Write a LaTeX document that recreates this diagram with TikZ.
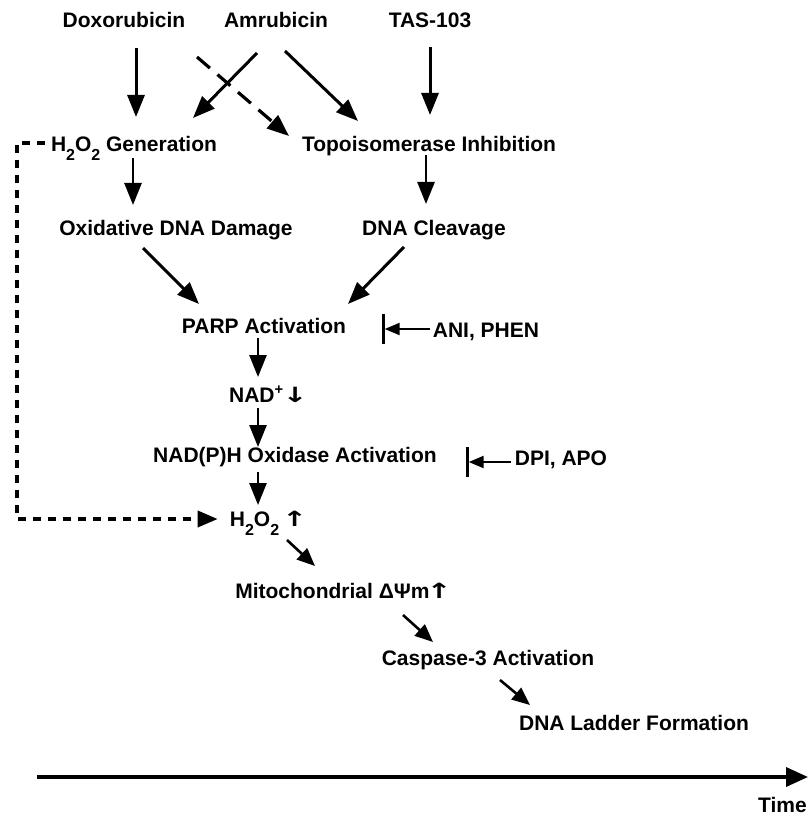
\documentclass[tikz,border=0pt]{standalone}
\usepackage{fontspec}
\setmainfont{Liberation Sans}
\newfontfamily\myarrowfont{DejaVu Sans}
\usetikzlibrary{arrows.meta,calc}
\newcommand{\mysubtwo}{\raisebox{-9pt}{\fontsize{16}{16}\selectfont 2}}
\newcommand{\mydnarr}{\kern-1pt\scalebox{1.5}[1.05]{\myarrowfont\bfseries\fontsize{20}{20}\selectfont ↓}\kern-3pt}
\newcommand{\myuparr}{\kern-3pt\scalebox{1.5}[1.05]{\myarrowfont\bfseries\fontsize{20}{20}\selectfont ↑}\kern-3pt}
\begin{document}
\begin{tikzpicture}[x=1pt,y=-1pt,
  lbl/.style={font=\bfseries\fontsize{21}{25}\selectfont,inner sep=0pt,anchor=base,text height=15pt,text depth=4pt},
  thk/.style={line width=3pt,-{Triangle[length=22pt,width=17pt]}},
  med/.style={line width=2.6pt,-{Triangle[length=22pt,width=17pt]}},
  sml/.style={line width=2.6pt,-{Triangle[length=18pt,width=15pt]}},
  inh/.style={line width=2.2pt,-{Triangle[length=15pt,width=12pt]}},
  barnode/.style={fill=black,draw=none,inner sep=0pt,minimum width=3pt,minimum height=30pt},
  dsh/.style={line width=3.5pt,dash pattern=on 8pt off 7pt,-{Triangle[length=20pt,width=16pt]}},
  dshA/.style={line width=3.2pt,dash pattern=on 17pt off 10pt,-{Triangle[length=22pt,width=17pt]}},
  axisln/.style={line width=3.5pt,-{Triangle[length=22pt,width=19pt]}}
]
\useasboundingbox (0,0) rectangle (810,818);

% nodes
\node[lbl] (dox) at (124,28) {Doxorubicin};
\node[lbl] (amr) at (276,28) {Amrubicin};
\node[lbl] (tas) at (430,28) {TAS-103};
\node[lbl] (gen) at (134,152) {H\mysubtwo O\mysubtwo\ Generation};
\node[lbl] (topo) at (429,152) {Topoisomerase Inhibition};
\node[lbl] (ox) at (176,235) {Oxidative DNA Damage};
\node[lbl] (clv) at (434,235) {DNA Cleavage};
\node[lbl] (parp) at (264,333) {PARP Activation};
\node[lbl] (ani) at (486,337) {ANI, PHEN};
\node[barnode] (bar1) at (383,329) {};
\node[lbl] (nad) at (267,402) {NAD\textsuperscript{+}\mydnarr};
\node[lbl] (nadph) at (295,462) {NAD(P)H Oxidase Activation};
\node[lbl] (dpi) at (561,465) {DPI, APO};
\node[barnode] (bar2) at (467,462) {};
\node[lbl] (h2) at (267,526) {H\mysubtwo O\mysubtwo\ \myuparr};
\node[lbl] (mito) at (342,598) {Mitochondrial ΔΨm\myuparr};
\node[lbl] (casp) at (488,665) {Caspase-3 Activation};
\node[lbl] (lad) at (634,730) {DNA Ladder Formation};
\node[lbl,anchor=base east] (time) at (807,812) {Time};
\coordinate (t0) at (37,777);

% connectors
\draw[thk] ($(dox.base)+(12,20)$) -- ($(gen.base)+(2,-35)$);
\draw[thk] ($(amr.base)+(-19,25)$) -- ($(gen.base)+(59,-34)$);
\draw[dshA] ($(amr.base)+(-79,29)$) -- ($(topo.base)+(-140,-16)$);
\draw[thk] ($(amr.base)+(9,23)$) -- ($(topo.base)+(-71,-31)$);
\draw[thk] ($(tas.base)+(0,19)$) -- ($(topo.base)+(1,-37)$);
\draw[med] ($(gen.base)+(-1,6)$) -- ($(ox.base)+(-43,-30)$);
\draw[med] ($(topo.base)+(-3,3)$) -- ($(clv.base)+(-8,-31)$);
\draw[thk] ($(ox.base)+(-33,13)$) -- ($(parp.base)+(-65,-29)$);
\draw[thk] ($(clv.base)+(-30,12)$) -- ($(parp.base)+(84,-29)$);
\draw[med] ($(parp.base)+(-6,5)$) -- ($(nad.base)+(-9,-25)$);
\draw[med] ($(nad.base)+(-9,6)$) -- ($(nadph.base)+(-37,-15)$);
\draw[med] ($(nadph.base)+(-37,10)$) -- ($(h2.base)+(-9,-21)$);
\draw[sml] ($(h2.base)+(20,14)$) -- ($(mito.base)+(-27,-32)$);
\draw[sml] ($(mito.base)+(61,17)$) -- ($(casp.base)+(-55,-23)$);
\draw[sml] ($(casp.base)+(12,15)$) -- ($(lad.base)+(-104,-25)$);
\draw[inh] ($(ani.base west)+(-3,-8)$) -- (bar1);
\draw[inh] ($(dpi.base west)+(-4,-3)$) -- (bar2);
\draw[dsh] ($(gen.base west)+(-6,-9)$) -- ++(-28,0) |- ($(h2.base west)+(-12,-7)$);
\draw[axisln] (t0) -- ($(time.base east)+(1,-35)$);
\end{tikzpicture}
\end{document}
